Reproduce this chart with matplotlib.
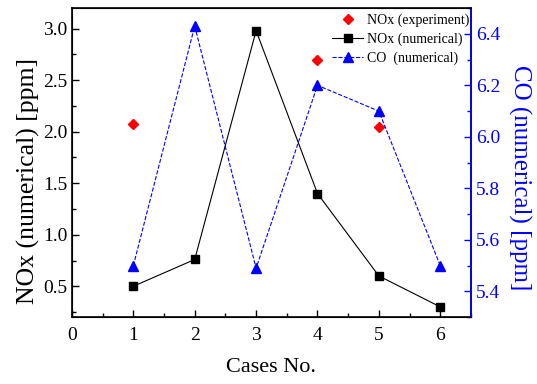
import numpy as np
import matplotlib
matplotlib.use("Agg")
import matplotlib.pyplot as plt
from matplotlib.ticker import MultipleLocator

plt.rcParams['font.family'] = ['Liberation Serif', 'DejaVu Serif']

cases = [1, 2, 3, 4, 5, 6]
nox_num = [0.50, 0.76, 2.98, 1.40, 0.60, 0.30]
exp_cases = [1, 4, 5]
nox_exp = [2.07, 2.70, 2.05]
co_num = [5.50, 6.43, 5.49, 6.20, 6.10, 5.50]

fig = plt.figure(figsize=(5.37, 3.84), dpi=100)
ax = fig.add_axes([0.134, 0.174, 0.743, 0.805])
ax2 = ax.twinx()

l1, = ax.plot(exp_cases, nox_exp, linestyle='none', marker='D', color='red',
              markersize=5, label='NOx (experiment)')
l2, = ax.plot(cases, nox_num, color='black', linewidth=0.8, marker='s',
              markersize=5.5, label='NOx (numerical)')
l3, = ax2.plot(cases, co_num, color='blue', linewidth=0.8, linestyle='--',
               marker='^', markersize=7, label='CO  (numerical)')

ax.set_xlim(0, 6.5)
ax.set_ylim(0.2, 3.2)
ax2.set_ylim(5.3, 6.5)

ax.xaxis.set_major_locator(MultipleLocator(1))
ax.xaxis.set_minor_locator(MultipleLocator(0.5))
ax.yaxis.set_major_locator(MultipleLocator(0.5))
ax.yaxis.set_minor_locator(MultipleLocator(0.25))
ax2.yaxis.set_major_locator(MultipleLocator(0.2))
ax2.yaxis.set_minor_locator(MultipleLocator(0.1))
ax.yaxis.set_major_formatter(plt.FormatStrFormatter('%.1f'))
ax2.yaxis.set_major_formatter(plt.FormatStrFormatter('%.1f'))

ax.tick_params(axis='both', which='both', direction='in', top=False, labelsize=14)
ax.tick_params(axis='x', pad=7)
ax.tick_params(which='major', length=5, width=1)
ax.tick_params(which='minor', length=3, width=1)
ax2.tick_params(axis='y', which='both', direction='in', colors='blue', labelsize=14)
ax2.tick_params(which='major', length=5, width=1)
ax2.tick_params(which='minor', length=3, width=1)
ax2.spines['right'].set_color('blue')
for s in ax.spines.values():
    s.set_linewidth(1.2)
ax2.spines['right'].set_linewidth(1.2)

ax.set_xlabel('Cases No.', fontsize=16, labelpad=10)
ax.set_ylabel('NOx (numerical) [ppm]', fontsize=18.5)
ax2.set_ylabel('CO (numerical) [ppm]', fontsize=18, color='blue', rotation=270)
# labels sit a bit below the axes centre in the original
ax.yaxis.set_label_coords(-0.11, 0.44)
ax.yaxis.label.set_va('center')
ax2.yaxis.set_label_coords(1.123, 0.45)
ax2.yaxis.label.set_va('center')

leg = ax2.legend(handles=[l1, l2, l3], loc='upper right', frameon=False,
                 fontsize=10, handlelength=2.2, borderaxespad=0.3,
                 labelspacing=0.4, handletextpad=0.3, borderpad=0.1,
                 bbox_to_anchor=(1.01, 1.0))

fig.savefig('out.png', dpi=100)
